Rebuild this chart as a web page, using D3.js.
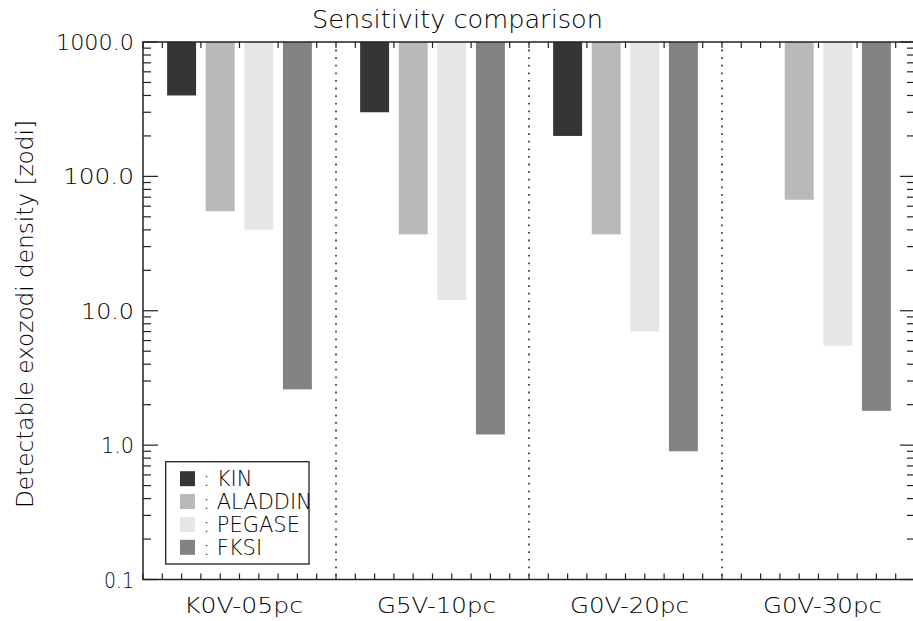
<!DOCTYPE html>
<html>
<head>
<meta charset="utf-8">
<script src="https://cdn.jsdelivr.net/npm/d3@7/dist/d3.min.js"></script>
<style>
  html, body { margin: 0; padding: 0; background: #fff; }
  svg { display: block; }
  text { font-family: "DejaVu Sans", "Liberation Sans", sans-serif; font-weight: 200; fill: #000; }
</style>
</head>
<body>
<svg id="chart" width="913" height="621"></svg>
<script>
// ---- data ----
const categories = ["K0V-05pc", "G5V-10pc", "G0V-20pc", "G0V-30pc"];
const seriesNames = ["KIN", "ALADDIN", "PEGASE", "FKSI"];
const seriesColors = ["#353535", "#b9b9b9", "#e6e6e6", "#838383"];
const kinValues     = [400, 300, 200, null];
const aladdinValues = [55, 37, 37, 67];
const pegaseValues  = [40, 12, 7.0, 5.5];
const fksiValues    = [2.6, 1.2, 0.9, 1.8];
const yTickValues = [0.1, 1, 10, 100, 1000];
const yTickLabels = ["0.1", "1.0", "10.0", "100.0", "1000.0"];
const titleText = "Sensitivity comparison";
const yLabelText = "Detectable exozodi density [zodi]";

const series = [kinValues, aladdinValues, pegaseValues, fksiValues];

// ---- layout ----
const svg = d3.select("#chart");
const L = 143, R = 915, T = 42, B = 579.5;

const x = d3.scaleLinear().domain([0, categories.length]).range([L, R]);
const y = d3.scaleLog().domain([0.1, 1000]).range([B, T]);

const axisColor = "#222";

// minor/major ticks for y (left and right)
const yMinor = [];
for (let e = -1; e < 3; e++) {
  for (let m = 2; m <= 9; m++) yMinor.push(m * Math.pow(10, e));
}
const gTicks = svg.append("g").attr("stroke", axisColor).attr("stroke-width", 1.2);
yMinor.forEach(v => {
  gTicks.append("line").attr("x1", L).attr("x2", L + 8).attr("y1", y(v)).attr("y2", y(v));
  gTicks.append("line").attr("x1", R).attr("x2", R - 8).attr("y1", y(v)).attr("y2", y(v));
});
yTickValues.forEach(v => {
  gTicks.append("line").attr("x1", L).attr("x2", L + 15).attr("y1", y(v)).attr("y2", y(v));
  gTicks.append("line").attr("x1", R).attr("x2", R - 15).attr("y1", y(v)).attr("y2", y(v));
});
// x minor ticks (top and bottom)
const xMinor = d3.range(0, categories.length * 10 + 1).map(i => i / 10);
xMinor.forEach(v => {
  gTicks.append("line").attr("x1", x(v)).attr("x2", x(v)).attr("y1", B).attr("y2", B - 6);
  gTicks.append("line").attr("x1", x(v)).attr("x2", x(v)).attr("y1", T).attr("y2", T + 6);
});

// dotted separators
d3.range(1, categories.length).forEach(i => {
  svg.append("line")
    .attr("x1", x(i)).attr("x2", x(i))
    .attr("y1", T).attr("y2", B)
    .attr("stroke", "#444").attr("stroke-width", 1.8)
    .attr("stroke-dasharray", "1.8,5.8");
});

// bars
const barW = 0.15;
series.forEach((vals, s) => {
  svg.append("g").selectAll("rect")
    .data(vals.map((v, i) => ({ v, i })).filter(d => d.v != null))
    .join("rect")
    .attr("x", d => x(d.i + 0.2 * (s + 1) - barW / 2))
    .attr("width", d => x(barW) - x(0))
    .attr("y", y(1000))
    .attr("height", d => y(d.v) - y(1000))
    .attr("fill", seriesColors[s]);
});

// frame
svg.append("rect")
  .attr("x", L).attr("y", T).attr("width", R - L).attr("height", B - T)
  .attr("fill", "none").attr("stroke", axisColor).attr("stroke-width", 1.5);

// y tick labels
const tickW = { "0.1": 30, "1.0": 33, "10.0": 53, "100.0": 71, "1000.0": 78 };
yTickValues.forEach((v, i) => {
  svg.append("text")
    .attr("x", 134).attr("y", y(v) + 8)
    .attr("text-anchor", "end")
    .attr("font-size", 22)
    .attr("textLength", tickW[yTickLabels[i]]).attr("lengthAdjust", "spacingAndGlyphs")
    .text(yTickLabels[i]);
});

// x category labels
categories.forEach((c, i) => {
  svg.append("text")
    .attr("x", x(i + 0.5) + 4).attr("y", 613)
    .attr("text-anchor", "middle")
    .attr("font-size", 21)
    .attr("textLength", 119).attr("lengthAdjust", "spacingAndGlyphs")
    .text(c);
});

// title
svg.append("text")
  .attr("x", 457.5).attr("y", 28)
  .attr("text-anchor", "middle")
  .attr("font-size", 25)
  .attr("textLength", 291).attr("lengthAdjust", "spacingAndGlyphs")
  .text(titleText);

// y label
svg.append("text")
  .attr("transform", `translate(33, ${(120 + 508) / 2}) rotate(-90)`)
  .attr("text-anchor", "middle")
  .attr("font-size", 23)
  .attr("textLength", 388).attr("lengthAdjust", "spacingAndGlyphs")
  .text(yLabelText);

// legend
const lg = svg.append("g");
lg.append("rect")
  .attr("x", 165.7).attr("y", 461.7).attr("width", 143.3).attr("height", 102.3)
  .attr("fill", "#fff").attr("stroke", axisColor).attr("stroke-width", 1.3);
const rowY = [478.7, 501.5, 524.5, 547.3];
seriesNames.forEach((n, i) => {
  lg.append("rect")
    .attr("x", 180).attr("y", rowY[i] - 7.5).attr("width", 15).attr("height", 15)
    .attr("fill", seriesColors[i]);
  lg.append("text")
    .attr("x", 203).attr("y", rowY[i] + 7.5)
    .attr("font-size", 21)
    .text(": " + n);
});
</script>
</body>
</html>
